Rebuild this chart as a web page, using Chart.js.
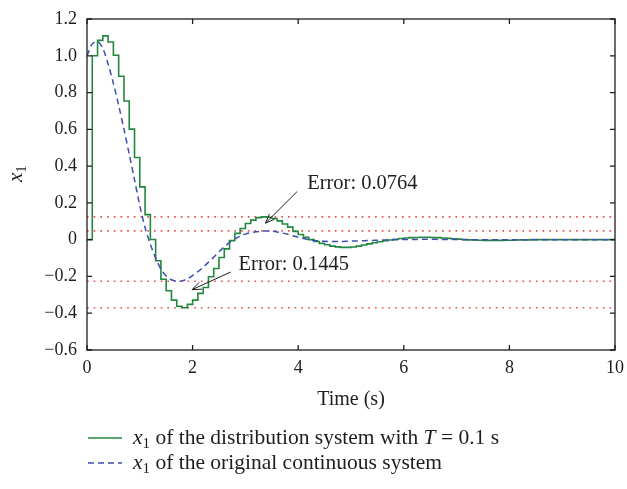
<!DOCTYPE html>
<html>
<head>
<meta charset="utf-8">
<script src="https://cdn.jsdelivr.net/npm/chart.js@4.4.1/dist/chart.umd.min.js"></script>
<style>
  html, body { margin: 0; padding: 0; background: #fff; }
  #wrap { width: 627px; height: 489px; }
</style>
</head>
<body>
<div id="wrap"><canvas id="chartStepResponse" width="627" height="489"></canvas></div>
<script>
// time samples (s), T = 0.1 s
var timeS = [0,0.1,0.2,0.3,0.4,0.5,0.6,0.7,0.8,0.9,1,1.1,1.2,1.3,1.4,1.5,1.6,1.7,1.8,1.9,
    2,2.1,2.2,2.3,2.4,2.5,2.6,2.7,2.8,2.9,3,3.1,3.2,3.3,3.4,3.5,3.6,3.7,3.8,3.9,
    4,4.1,4.2,4.3,4.4,4.5,4.6,4.7,4.8,4.9,5,5.1,5.2,5.3,5.4,5.5,5.6,5.7,5.8,5.9,
    6,6.1,6.2,6.3,6.4,6.5,6.6,6.7,6.8,6.9,7,7.1,7.2,7.3,7.4,7.5,7.6,7.7,7.8,7.9,
    8,8.1,8.2,8.3,8.4,8.5,8.6,8.7,8.8,8.9,9,9.1,9.2,9.3,9.4,9.5,9.6,9.7,9.8,9.9,10];

// x1 of the distribution system (held over each 0.1 s step)
var x1Distributed = [0,1.000,1.084,1.108,1.075,1.003,0.889,0.754,0.601,0.447,
    0.287,0.136,0.001,-0.115,-0.215,-0.278,-0.329,-0.362,-0.3705,-0.352,
    -0.329,-0.292,-0.260,-0.202,-0.157,-0.097,-0.050,-0.005,0.034,0.061,
    0.088,0.106,0.120,0.124,0.122,0.115,0.102,0.085,0.068,0.045,
    0.028,0.013,0.000,-0.010,-0.020,-0.028,-0.035,-0.039,-0.042,-0.042,
    -0.040,-0.035,-0.029,-0.023,-0.017,-0.011,-0.006,-0.002,0.002,0.006,
    0.009,0.011,0.012,0.013,0.013,0.012,0.011,0.009,0.007,0.005,
    0.003,0.001,-0.001,-0.002,-0.003,-0.004,-0.004,-0.004,-0.004,-0.003,
    -0.003,-0.002,-0.001,-0.001,0,0,0,0,0,0,
    0,0,0,0,0,0,0,0,0,0,0];

// x1 of the original continuous system
var x1Continuous = [1.000,1.065,1.078,1.040,0.955,0.850,0.730,0.600,0.465,0.325,
    0.185,0.065,-0.025,-0.100,-0.160,-0.198,-0.218,-0.226,-0.224,-0.213,
    -0.195,-0.174,-0.150,-0.123,-0.095,-0.066,-0.039,-0.015,0.004,0.019,
    0.030,0.038,0.043,0.046,0.0476,0.046,0.042,0.036,0.029,0.021,
    0.013,0.006,0.000,-0.004,-0.007,-0.009,-0.010,-0.010,-0.010,-0.009,
    -0.008,-0.007,-0.006,-0.005,-0.004,-0.003,-0.002,-0.001,0,0,
    0.001,0.001,0.001,0.002,0.002,0.002,0.002,0.001,0.001,0.001,
    0.001,0,0,0,0,0,0,0,0,0,
    0,0,0,0,0,0,0,0,0,0,
    0,0,0,0,0,0,0,0,0,0,0];

// dotted reference levels (peaks of both curves)
var errorLevels = [0.124, 0.0476, -0.226, -0.3705];

var xTickLabels = ['0', '2', '4', '6', '8', '10'];
var yTickLabels = ['\u22120.6', '\u22120.4', '\u22120.2', '0', '0.2', '0.4', '0.6', '0.8', '1.0', '1.2'];

// annotations: text, label anchor, arrow tail, arrow tip (data units)
var errorNotes = [
    { text: 'Error: 0.0764', label: [4.17, 0.305], tail: [3.98, 0.262], tip: [3.38, 0.090] },
    { text: 'Error: 0.1445', label: [2.87, -0.138], tail: [2.72, -0.176], tip: [1.99, -0.272] }
];

var serif = '"Liberation Serif", "DejaVu Serif", serif';
var inkColor = '#1e1e1e';

function toPoints(xs, ys) {
    var pts = [];
    for (var i = 0; i < xs.length; i++) pts.push({ x: xs[i], y: ys[i] });
    return pts;
}

function drawSubscripted(ctx, x, y, parts, size) {
    // parts: [text, style] style: 'i' italic, 's' subscript, '' normal
    var cx = x;
    parts.forEach(function (p) {
        if (p[1] === 's') {
            ctx.font = Math.round(size * 0.72) + 'px ' + serif;
            ctx.fillText(p[0], cx, y + size * 0.28);
        } else {
            ctx.font = (p[1] === 'i' ? 'italic ' : '') + size + 'px ' + serif;
            ctx.fillText(p[0], cx, y);
        }
        cx += ctx.measureText(p[0]).width;
    });
    return cx - x;
}

var framePlugin = {
    id: 'framePlugin',
    afterDraw: function (chart) {
        var ctx = chart.ctx, a = chart.chartArea;
        var xs = chart.scales.x, ys = chart.scales.y;
        ctx.save();
        // box and inward ticks
        ctx.strokeStyle = inkColor;
        ctx.lineWidth = 1.3;
        ctx.strokeRect(a.left, a.top, a.right - a.left, a.bottom - a.top);
        ctx.beginPath();
        for (var v = 0; v <= 10; v += 2) {
            var px = xs.getPixelForValue(v);
            ctx.moveTo(px, a.bottom); ctx.lineTo(px, a.bottom - 5);
            ctx.moveTo(px, a.top); ctx.lineTo(px, a.top + 5);
        }
        ys.ticks.forEach(function (t) {
            var py = ys.getPixelForValue(t.value);
            ctx.moveTo(a.left, py); ctx.lineTo(a.left + 5, py);
            ctx.moveTo(a.right, py); ctx.lineTo(a.right - 5, py);
        });
        ctx.stroke();

        // error annotations with arrows
        ctx.fillStyle = inkColor;
        ctx.lineWidth = 1;
        errorNotes.forEach(function (n) {
            var tx = xs.getPixelForValue(n.tail[0]), ty = ys.getPixelForValue(n.tail[1]);
            var hx = xs.getPixelForValue(n.tip[0]), hy = ys.getPixelForValue(n.tip[1]);
            var ang = Math.atan2(ty - hy, tx - hx);
            ctx.beginPath();
            ctx.moveTo(tx, ty); ctx.lineTo(hx, hy);
            ctx.moveTo(hx + 10 * Math.cos(ang + 0.38), hy + 10 * Math.sin(ang + 0.38));
            ctx.lineTo(hx, hy);
            ctx.lineTo(hx + 10 * Math.cos(ang - 0.38), hy + 10 * Math.sin(ang - 0.38));
            ctx.stroke();
            ctx.font = '20.5px ' + serif;
            ctx.textAlign = 'left';
            ctx.textBaseline = 'middle';
            ctx.fillText(n.text, xs.getPixelForValue(n.label[0]), ys.getPixelForValue(n.label[1]));
        });

        // axis titles
        ctx.textBaseline = 'middle';
        ctx.textAlign = 'center';
        ctx.font = '20px ' + serif;
        ctx.fillText('Time (s)', (a.left + a.right) / 2, 400);

        ctx.save();
        ctx.translate(16, 174);
        ctx.rotate(-Math.PI / 2);
        ctx.textAlign = 'left';
        drawSubscripted(ctx, -8, 0, [['x', 'i'], ['1', 's']], 21);
        ctx.restore();

        // legend
        var rows = [
            { color: '#23873f', dash: [], parts: [['x', 'i'], ['1', 's'], [' of the distribution system with ', ''], ['T', 'i'], [' = 0.1 s', '']] },
            { color: '#3b4fae', dash: [6, 4], parts: [['x', 'i'], ['1', 's'], [' of the original continuous system', '']] }
        ];
        ctx.textAlign = 'left';
        rows.forEach(function (r, i) {
            var y = 438 + i * 25;
            ctx.strokeStyle = r.color;
            ctx.lineWidth = 1.5;
            ctx.setLineDash(r.dash);
            ctx.beginPath();
            ctx.moveTo(88, y); ctx.lineTo(122, y);
            ctx.stroke();
            ctx.setLineDash([]);
            ctx.fillStyle = inkColor;
            drawSubscripted(ctx, 133, y, r.parts, 21.5);
        });
        ctx.restore();
    }
};

var datasets = [{
    label: 'x1 of the original continuous system',
    data: toPoints(timeS, x1Continuous),
    borderColor: '#3b4fae',
    borderWidth: 1.5,
    borderDash: [6, 4],
    pointRadius: 0,
    tension: 0.3,
    fill: false
}, {
    label: 'x1 of the distribution system with T = 0.1 s',
    data: toPoints(timeS, x1Distributed),
    borderColor: '#23873f',
    borderWidth: 1.6,
    pointRadius: 0,
    stepped: 'before',
    fill: false
}];

errorLevels.forEach(function (lv, i) {
    datasets.push({
        label: 'level ' + i,
        data: [{ x: 0, y: lv }, { x: 10, y: lv }],
        borderColor: '#ec4a4a',
        borderWidth: 1.6,
        borderDash: [1.6, 5.1],
        pointRadius: 0,
        fill: false
    });
});

var ctx = document.getElementById('chartStepResponse');
var myStepChart = new Chart(ctx, {
    type: 'line',
    data: { datasets: datasets },
    options: {
        responsive: false,
        animation: false,
        devicePixelRatio: 1,
        layout: { padding: { left: 0, right: 12, top: 19, bottom: 0 } },
        plugins: {
            legend: { display: false },
            tooltip: { enabled: false }
        },
        scales: {
            x: {
                type: 'linear',
                min: 0,
                max: 10,
                ticks: {
                    stepSize: 2,
                    padding: 7,
                    maxRotation: 0,
                    color: inkColor,
                    font: { family: serif, size: 18 },
                    callback: function (value, index) { return xTickLabels[index]; }
                },
                grid: { display: false, drawTicks: false },
                border: { display: false },
                afterFit: function (scale) {
                    scale.height = 139;
                    scale.paddingLeft = 0;
                    scale.paddingRight = 0;
                }
            },
            y: {
                min: -0.6,
                max: 1.2,
                ticks: {
                    stepSize: 0.2,
                    padding: 10,
                    color: inkColor,
                    font: { family: serif, size: 18 },
                    callback: function (value, index) { return yTickLabels[index]; }
                },
                grid: { display: false, drawTicks: false },
                border: { display: false },
                afterFit: function (scale) {
                    scale.width = 87;
                    scale.paddingTop = 0;
                    scale.paddingBottom = 0;
                }
            }
        }
    },
    plugins: [framePlugin]
});
</script>
</body>
</html>
